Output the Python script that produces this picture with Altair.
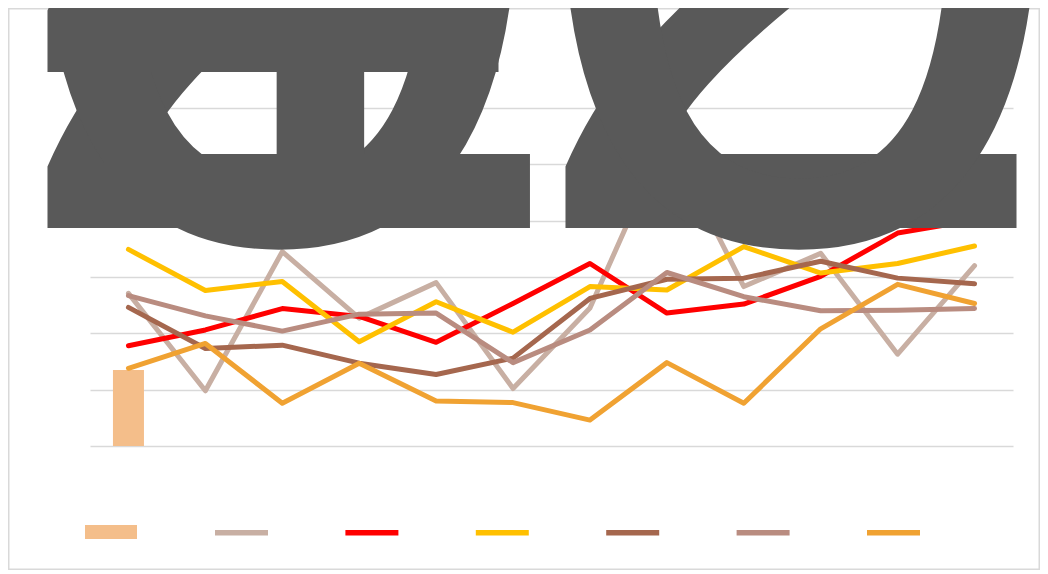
import altair as alt
import pandas as pd

categories = [str(i) for i in range(1, 13)]

bar_name = "Series1"
bar_values = [1.35, None, None, None, None, None, None, None, None, None, None, None]

line_names = ["Series2", "Series3", "Series4", "Series5", "Series6", "Series7"]
s2 = [2.71, 0.98, 3.45, 2.27, 2.90, 1.02, 2.45, 5.52, 2.83, 3.42, 1.63, 3.20]
s3 = [1.78, 2.06, 2.44, 2.30, 1.84, 2.53, 3.24, 2.36, 2.52, 3.01, 3.78, 4.01]
s4 = [3.49, 2.76, 2.92, 1.85, 2.56, 2.02, 2.83, 2.77, 3.54, 3.07, 3.24, 3.55]
s5 = [2.46, 1.73, 1.79, 1.47, 1.27, 1.56, 2.62, 2.96, 2.98, 3.28, 2.98, 2.88]
s6 = [2.67, 2.31, 2.04, 2.34, 2.36, 1.48, 2.06, 3.08, 2.65, 2.40, 2.41, 2.44]
s7 = [1.38, 1.82, 0.76, 1.47, 0.80, 0.77, 0.46, 1.48, 0.76, 2.08, 2.87, 2.53]
line_colors = ["#C8AFA3", "#FF0000", "#FFC000", "#A5674E", "#B98C80", "#F0A232"]
line_widths = [4, 5, 5, 5, 5, 5]
bar_color = "#F4BE8A"

title_chars = ["2", "0", "1", "2", "2", "0"]

W, H = 923, 338

bar_df = pd.DataFrame({"cat": categories, "value": bar_values, "series": bar_name}).dropna()
line_rows = []
for name, vals in zip(line_names, [s2, s3, s4, s5, s6, s7]):
    for c, v in zip(categories, vals):
        line_rows.append({"cat": c, "value": v, "series": name})
line_df = pd.DataFrame(line_rows)

xenc = alt.X("cat:N", sort=categories,
             scale=alt.Scale(paddingInner=0, paddingOuter=0),
             axis=alt.Axis(labels=False, ticks=False, domain=False, title=None, grid=False))
yenc = alt.Y("value:Q", scale=alt.Scale(domain=[0, 6], nice=False, zero=True),
             axis=alt.Axis(labels=False, ticks=False, domain=False, title=None, grid=True,
                           values=[0, 1, 2, 3, 4, 5, 6], gridColor="#D9D9D9", gridWidth=1.5))

one = pd.DataFrame({"k": [0]})

border = alt.Chart(one).mark_rect(fillOpacity=0, stroke="#D9D9D9", strokeWidth=1.5).encode(
    x=alt.value(-81.25), x2=alt.value(W + 26.25), y=alt.value(-99.25), y2=alt.value(H + 123.25))

bars = alt.Chart(bar_df).mark_bar(size=31).encode(
    x=xenc, y=yenc,
    fill=alt.Fill("series:N", scale=alt.Scale(domain=[bar_name], range=[bar_color]),
                  legend=alt.Legend(orient="none", legendX=-5, legendY=398, title=None,
                                    symbolType="M-1,-0.27H1V0.27H-1Z", symbolSize=2704,
                                    symbolStrokeWidth=0, labelExpr="''", labelOffset=0, padding=0)))

lines = alt.Chart(line_df).mark_line(strokeWidth=5, strokeJoin="round", strokeCap="round").encode(
    x=xenc, y=yenc,
    stroke=alt.Stroke("series:N", scale=alt.Scale(domain=line_names, range=line_colors),
                      legend=alt.Legend(orient="none", legendX=122, legendY=395, title=None,
                                        direction="horizontal", symbolType="stroke",
                                        symbolSize=2809, symbolStrokeWidth=5.5,
                                        columnPadding=55.4, labelExpr="''", labelOffset=0,
                                        padding=0)),
    strokeWidth=alt.StrokeWidth("series:N", scale=alt.Scale(domain=line_names, range=line_widths),
                                legend=None),
)

glyph_pos = [(183, 120), (190, 132), (213, 120), (183, -36), (701, 120), (710, 132)]
glyphs = []
for ch, (gx, gy) in zip(title_chars, glyph_pos):
    glyphs.append(alt.Chart(one).mark_text(font="Liberation Sans", fontSize=990, color="#595959",
                                           align="center", baseline="alphabetic").encode(
        x=alt.value(gx), y=alt.value(gy), text=alt.value(ch)))

chart = alt.layer(border, bars, lines, *glyphs).resolve_legend(fill="independent", stroke="independent").properties(
    width=W, height=H, autosize="none",
    padding={"left": 82, "top": 100, "right": 27, "bottom": 124},
).configure_view(stroke=None)

chart.save("out.html", embed_options={"renderer": "svg", "actions": False})
